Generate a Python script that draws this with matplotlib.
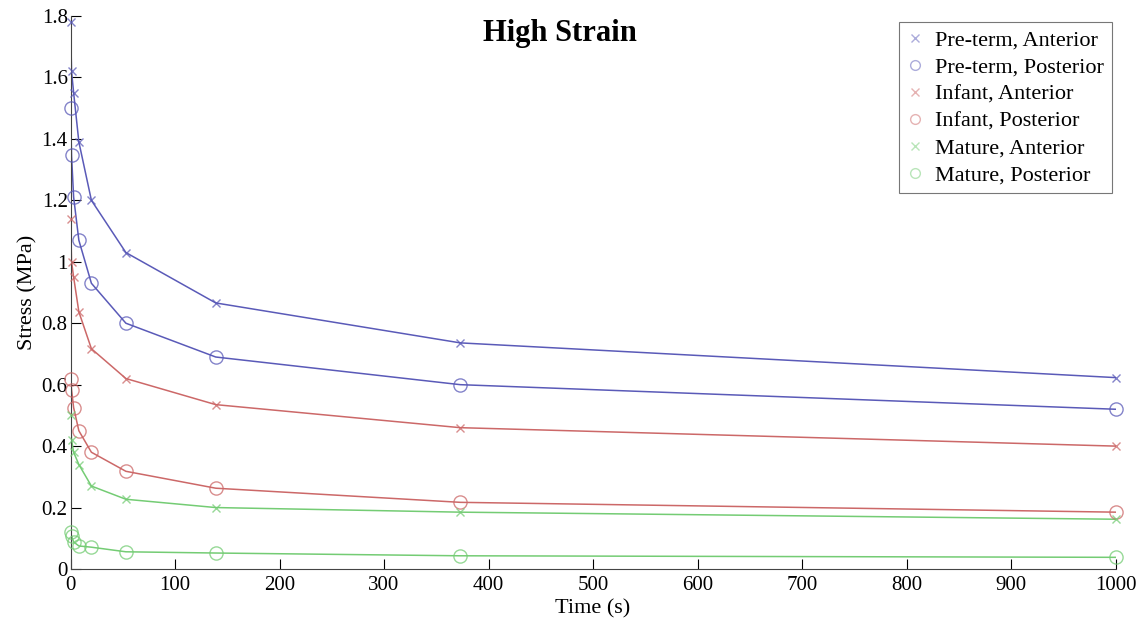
import numpy as np
import matplotlib.pyplot as plt

plt.rcParams['font.family'] = ['Liberation Serif', 'DejaVu Serif']

# time points (s)
t = [0, 1, 3, 8, 20, 53, 139, 373, 1000]

# stress (MPa)
pre_ant = [1.78, 1.62, 1.55, 1.39, 1.20, 1.03, 0.866, 0.736, 0.623]
pre_post = [1.50, 1.346, 1.21, 1.07, 0.93, 0.80, 0.69, 0.60, 0.52]
inf_ant = [1.14, 1.00, 0.95, 0.837, 0.717, 0.62, 0.535, 0.46, 0.40]
inf_post = [0.62, 0.584, 0.525, 0.45, 0.38, 0.318, 0.263, 0.217, 0.185]
mat_ant = [0.50, 0.42, 0.38, 0.34, 0.27, 0.227, 0.20, 0.185, 0.162]
mat_post = [0.12, 0.107, 0.088, 0.075, 0.071, 0.056, 0.052, 0.043, 0.038]

labels = ['Pre-term, Anterior', 'Pre-term, Posterior', 'Infant, Anterior',
          'Infant, Posterior', 'Mature, Anterior', 'Mature, Posterior']
series = [pre_ant, pre_post, inf_ant, inf_post, mat_ant, mat_post]
colors = ['#5a5ab8', '#5a5ab8', '#cc6868', '#cc6868', '#74cc74', '#74cc74']
marks = ['x', 'o', 'x', 'o', 'x', 'o']

fig = plt.figure(figsize=(11.44, 6.2), dpi=100)
ax = fig.add_axes([70.5 / 1144, 1 - 569 / 620, 1045 / 1144, 553 / 620])

handles = []
for y, c, m, lab in zip(series, colors, marks, labels):
    ax.plot(t, y, color=c, lw=1.1, zorder=2)
    if m == 'o':
        ax.plot(t, y, ls='none', marker='o', ms=9.5, mfc='none', mec=c, mew=1.0,
                alpha=0.75, clip_on=False, zorder=3)
    else:
        ax.plot(t, y, ls='none', marker='x', ms=6, mec=c, mew=1.0,
                alpha=0.75, clip_on=False, zorder=3)
    h, = ax.plot([], [], ls='none', marker=m, ms=7 if m == 'o' else 6,
                 mfc='none', mec=c, mew=1.0, alpha=0.5)
    handles.append(h)

ax.set_xlim(0, 1000)
ax.set_ylim(0, 1.8)
ax.set_xticks(np.arange(0, 1001, 100))
yt = np.arange(0, 1.81, 0.2)
ax.set_yticks(yt)
ax.set_yticklabels(['0', '0.2', '0.4', '0.6', '0.8', '1', '1.2', '1.4', '1.6', '1.8'])
ax.tick_params(direction='in', labelsize=15, length=7, width=0.8)
ax.tick_params(axis='x', pad=5)
ax.tick_params(axis='y', pad=2)
ax.spines['top'].set_visible(False)
ax.spines['right'].set_visible(False)
for s in ['left', 'bottom']:
    ax.spines[s].set_color('#444444')

ax.set_xlabel('Time (s)', fontsize=16, labelpad=3)
ax.set_ylabel('Stress (MPa)', fontsize=16, labelpad=3)

fig.text(560 / 1144, 1 - 33 / 620, 'High Strain', ha='center', va='center',
         fontsize=22, fontweight='bold')

leg = ax.legend(handles, labels, loc='upper right',
                bbox_to_anchor=(1112 / 1144, 1 - 22 / 620),
                bbox_transform=fig.transFigure, borderaxespad=0,
                fontsize=16, frameon=True, fancybox=False, handlelength=0.8,
                handletextpad=0.5, labelspacing=0.29, borderpad=0.35,
                edgecolor='#555555')
leg.get_frame().set_linewidth(0.8)

fig.savefig('out.png', dpi=100)
